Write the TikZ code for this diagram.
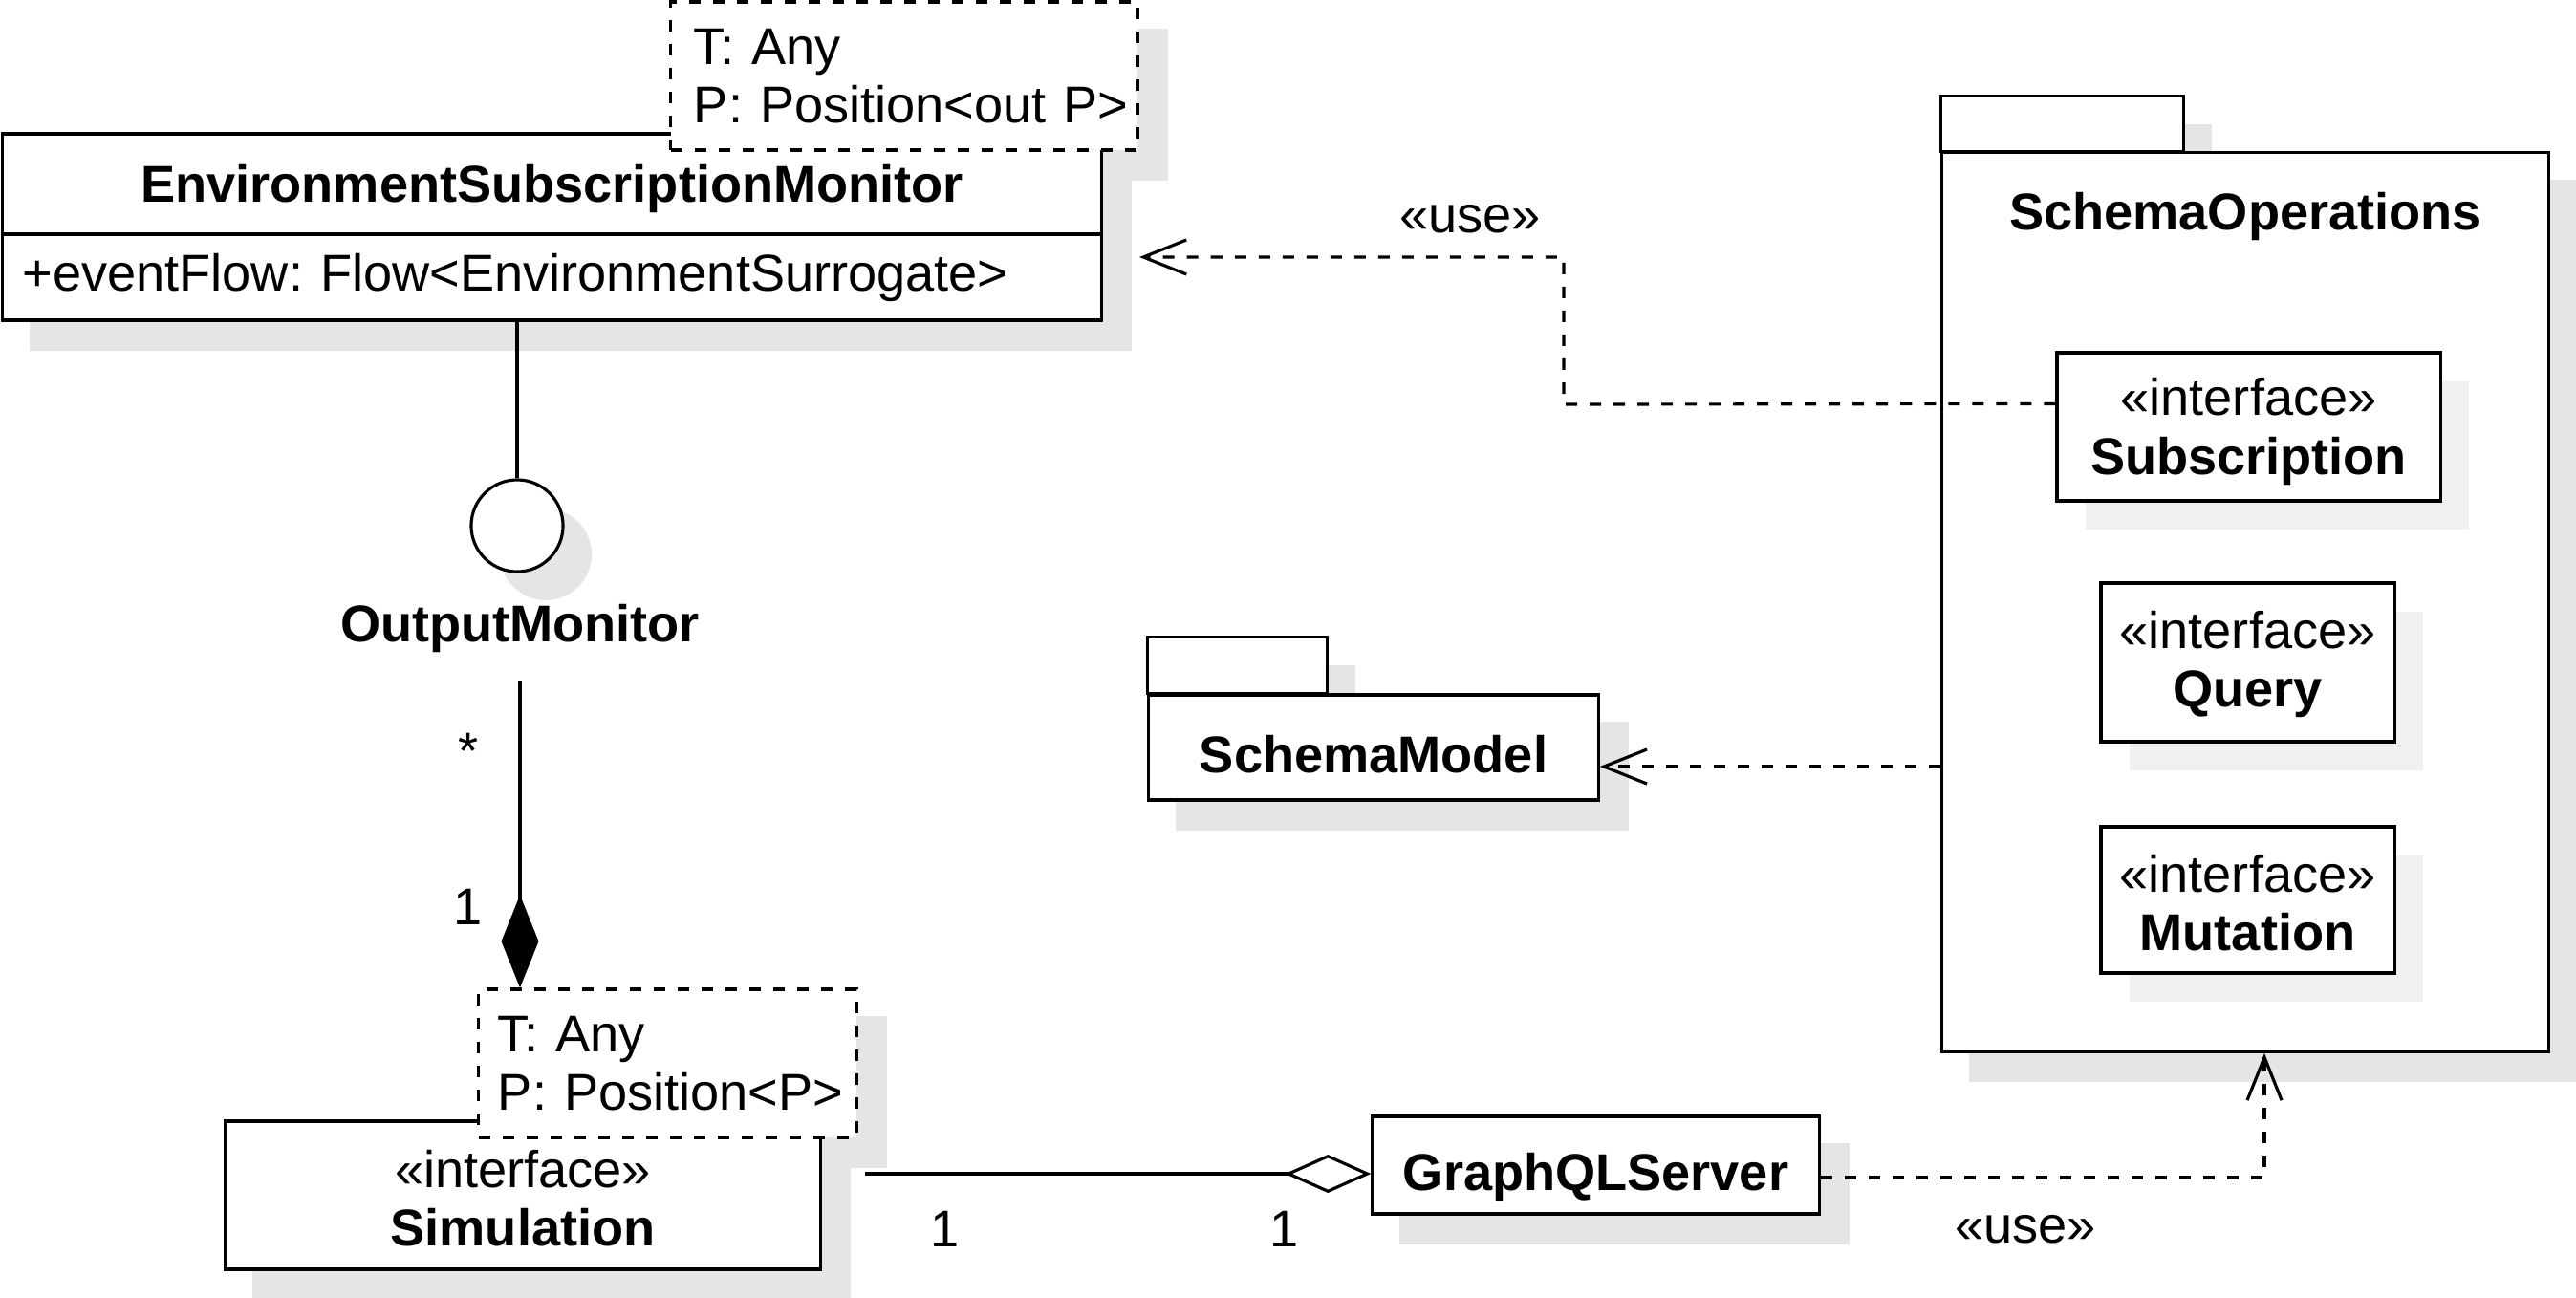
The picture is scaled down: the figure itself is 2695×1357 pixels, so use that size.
\documentclass[tikz,border=0pt]{standalone}
\usepackage{fontspec}
\setmainfont{Liberation Sans}
\usetikzlibrary{arrows.meta,shadows}
\definecolor{shadeout}{gray}{0.90}
\definecolor{shadein}{gray}{0.94}
\newcommand\umlfont{\fontsize{15.4}{17.4}\selectfont\frenchspacing}
\newcommand\lowertext[2]{\raisebox{-#1}[\height][\depth]{#2}}
\pgfdeclarelayer{bg}
\pgfsetlayers{bg,main}
\begin{document}
\begin{tikzpicture}[x=0.01cm,y=-0.01cm,
  every node/.style={font=\umlfont},
  box/.style={draw, line width=0.9pt, fill=white, inner sep=0pt, align=center},
  tmpl/.style={box, dash pattern=on 0.12cm off 0.13cm, align=left},
  innerbox/.style={box, general shadow={fill=shadein, shadow xshift=0.3cm, shadow yshift=-0.3cm}},
  pkg/.style={draw, line width=0.9pt, fill=white},
  sh/.style={fill=shadeout},
  line/.style={line width=0.9pt},
  usedep/.style={line width=0.9pt, dash pattern=on 0.12cm off 0.13cm, -{Straight Barb[length=0.45cm,width=0.36cm,line width=0.9pt]}},
  comp/.style={line width=0.9pt, -{Diamond[length=0.97cm,width=0.39cm]}},
  aggr/.style={line width=0.9pt, -{Diamond[length=0.9cm,width=0.4cm,fill=white,line width=0.9pt]}},
  lbl/.style={inner sep=0pt}
]
\useasboundingbox (0,0) rectangle (2695,1357);

% EnvironmentSubscriptionMonitor
\node[box, minimum width=11.49cm, minimum height=1.05cm, font=\umlfont\bfseries] (esm) at (577.5,192.5) {\lowertext{0.05cm}{EnvironmentSubscriptionMonitor}};
\node[box, minimum width=11.49cm, minimum height=0.9cm, text width=11.07cm, inner xsep=0.21cm, align=left] (esmA) at (577.5,290) {+eventFlow: Flow<EnvironmentSurrogate>};
\node[tmpl, minimum width=4.88cm, minimum height=1.55cm, text width=4.40cm, inner xsep=0.24cm] (tmplE) at (946,79.5) {T: Any\\\mbox{P: Position<out P>}};

% provided interface
\node[draw, circle, line width=0.9pt, fill=white, minimum size=0.96cm, inner sep=0pt] (iface) at (541,550) {};
\node[font=\umlfont\bfseries, inner sep=0.25cm] (om) at (544,657) {OutputMonitor};

% Simulation
\node[box, minimum width=6.22cm, minimum height=1.55cm] (sim) at (547,1250.5) {\lowertext{0.03cm}{«interface»}\\\lowertext{0.03cm}{\textbf{Simulation}}};
\node[tmpl, minimum width=3.95cm, minimum height=1.55cm, text width=3.55cm, inner xsep=0.2cm] (simT) at (698.5,1112.5) {T: Any\\\mbox{P: Position<P>}};

% GraphQLServer
\node[box, minimum width=4.67cm, minimum height=1.02cm, font=\umlfont\bfseries] (gql) at (1669.5,1219) {\lowertext{0.12cm}{GraphQLServer}};

% SchemaModel package
\node[box, minimum width=4.70cm, minimum height=1.10cm, font=\umlfont\bfseries] (model) at (1437,782) {\lowertext{0.07cm}{SchemaModel}};
\draw[pkg] (model.north west) rectangle ++(188,-59);

% SchemaOperations package
\node[box, minimum width=6.34cm, minimum height=9.40cm] (ops) at (2349,630) {};
\draw[pkg] (ops.north west) rectangle ++(254,-58);
\node[font=\umlfont\bfseries, lbl] (opsT) at (2349,226) {SchemaOperations};
\node[innerbox, minimum width=4.01cm, minimum height=1.55cm] (sub) at (2352.5,446.5) {\lowertext{0.05cm}{«interface»}\\\lowertext{0.05cm}{\textbf{Subscription}}};
\node[innerbox, minimum width=3.07cm, minimum height=1.66cm] (query) at (2351.5,693) {\lowertext{0.02cm}{«interface»}\\\lowertext{0.02cm}{\textbf{Query}}};
\node[innerbox, minimum width=3.07cm, minimum height=1.53cm] (mut) at (2351.5,941.5) {\lowertext{0.03cm}{«interface»}\\\lowertext{0.03cm}{\textbf{Mutation}}};

% outer shadows
\begin{pgfonlayer}{bg}
\fill[sh] ([shift={(30,30)}]esm.north west) rectangle ([shift={(30,30)}]esmA.south east);
\fill[sh] ([shift={(30,30)}]tmplE.north west) rectangle ([shift={(30,30)}]tmplE.south east);
\fill[sh] ([shift={(30,30)}]iface.center) circle[radius=0.48cm];
\fill[sh] ([shift={(30,30)}]sim.north west) rectangle ([shift={(30,30)}]sim.south east);
\fill[sh] ([shift={(30,30)}]simT.north west) rectangle ([shift={(30,30)}]simT.south east);
\fill[sh] ([shift={(30,30)}]gql.north west) rectangle ([shift={(30,30)}]gql.south east);
\fill[sh] ([shift={(30,30)}]model.north west) rectangle ([shift={(30,30)}]model.south east);
\fill[sh] ([shift={(30,30)}]model.north west) rectangle ++(188,-59);
\fill[sh] ([shift={(30,30)}]ops.north west) rectangle ([shift={(30,30)}]ops.south east);
\fill[sh] ([shift={(30,30)}]ops.north west) rectangle ++(254,-58);
\end{pgfonlayer}

% connectors
\draw[line] (iface.north |- esmA.south) -- (iface.north);
\draw[comp] ([yshift=-0.04cm]om.south) -- (om.south |- simT.north);
\draw[aggr] ([xshift=0.07cm,yshift=-0.09cm]simT.east |- gql.west) -- ([yshift=-0.09cm]gql.west);
\draw[usedep] ([yshift=-0.13cm]gql.east) -| ([xshift=0.2cm]ops.south);
\draw[usedep] ([yshift=0.24cm]sub.west) -- (1636,423) |- ([xshift=0.38cm,yshift=0.21cm]esmA.east);
\draw[usedep] ([yshift=-0.2cm]model.east -| ops.west) -- ([yshift=-0.2cm]model.east);

% labels
\node[lbl] (use1) at (1538,229) {«use»};
\node[lbl] (use2) at (2119,1286) {«use»};
\node[lbl] (mStar) at (490,786) {*};
\node[lbl] (mOne) at (490,949) {1};
\node[lbl] (aOne1) at (989,1286) {1};
\node[lbl] (aOne2) at (1344,1286) {1};
\end{tikzpicture}
\end{document}
